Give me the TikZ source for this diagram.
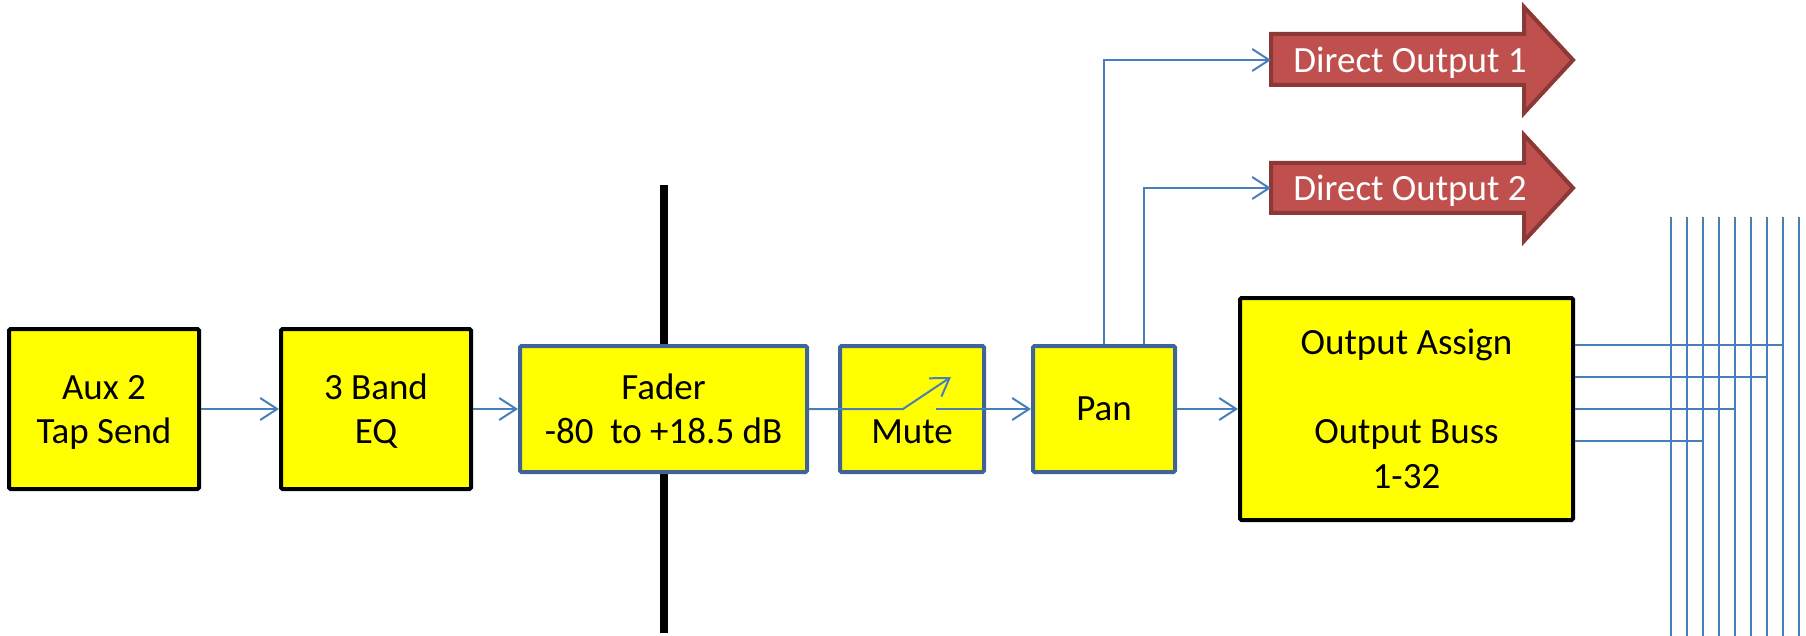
\documentclass[tikz,border=0pt]{standalone}
\usepackage{fontspec}
\setmainfont{Carlito}
\usetikzlibrary{arrows.meta}
\definecolor{yfill}{RGB}{255,255,0}
\definecolor{bbord}{RGB}{64,100,150}
\definecolor{wireblue}{RGB}{74,126,187}
\definecolor{redfill}{RGB}{192,80,77}
\definecolor{redbord}{RGB}{140,56,54}
\tikzset{
  box/.style={draw, fill=yfill, line width=4pt, rounded corners=1.5pt, align=center, inner sep=0pt, font=\fontsize{37}{44.5}\selectfont},
  blackbox/.style={box, draw=black},
  bluebox/.style={box, draw=bbord},
  wire/.style={draw=wireblue, line width=2pt},
  flow/.style={wire, -{Straight Barb[length=17pt,width=22pt]}},
  lbl/.style={font=\fontsize{37}{44.5}\selectfont, inner sep=0pt},
  redarrow/.style={fill=redfill, draw=redbord, line width=4pt, line join=miter},
  faderbar/.style={draw=black, line width=8pt}
}
\newcommand\firstln[1]{\rule{0pt}{24.5pt}\smash{#1}}
\newcommand\lastln[1]{\smash{#1}}
\begin{document}
\begin{tikzpicture}[x=1pt,y=-1pt]
\useasboundingbox (0,0) rectangle (1806,636);

% fader bar behind the fader box
\coordinate (bartop) at (663.5,185);
\coordinate (barbot) at (663.5,633);
\draw[faderbar] (bartop) -- (barbot);

% blocks
\node[blackbox, minimum width=190pt, minimum height=160pt] (aux) at (104,409) {\firstln{Aux 2}\\\lastln{Tap Send}};
\node[blackbox, minimum width=190pt, minimum height=160pt] (eq) at (376,409) {\firstln{3 Band}\\\lastln{EQ}};
\node[bluebox, minimum width=287pt, minimum height=126pt] (fader) at (663.5,409) {\firstln{Fader}\\\lastln{-80~ to +18.5 dB}};
\node[bluebox, minimum width=144pt, minimum height=126pt] (mute) at (912,409) {};
\node[lbl, anchor=base] (mutelbl) at (912,443) {Mute};
\node[bluebox, minimum width=142pt, minimum height=126pt] (pan) at (1104,409) {Pan};
\node[blackbox, minimum width=333pt, minimum height=222pt] (out) at (1406.5,409) {Output Assign\\[44.5pt]Output Buss\\1-32};

% direct output arrows
\draw[redarrow] (1271,34) -- (1524,34) -- (1524,7) -- (1573,60) -- (1524,113) -- (1524,85) -- (1271,85) -- cycle;
\node[lbl, text=white, anchor=base] (do1) at (1410,73) {Direct Output 1};
\coordinate (do1in) at (1271,60);
\draw[redarrow] (1271,163) -- (1524,163) -- (1524,135) -- (1573,188) -- (1524,241) -- (1524,213) -- (1271,213) -- cycle;
\node[lbl, text=white, anchor=base] (do2) at (1410,201) {Direct Output 2};
\coordinate (do2in) at (1271,188);

% signal flow
\coordinate (sw1) at (903,409);
\coordinate (sw2) at (951,377);
\coordinate (sw3) at (936,409);
\draw[flow] (aux) -- (eq);
\draw[flow] (eq) -- (fader);
\draw[flow] (fader.east) -- (sw1) -- (sw2);
\draw[flow] (sw3) -- (pan.west);
\draw[flow] (pan) -- (out);
\draw[flow] (pan.north) |- (do1in);
\coordinate (tap2) at ([xshift=40pt]pan.north);
\draw[flow] (tap2) |- (do2in);

% output busses
\foreach \i in {0,...,8} {
  \draw[wire] ({1671+16*\i},217) -- ({1671+16*\i},636);
}
\coordinate (b1) at (1783,345);
\coordinate (b2) at (1767,377);
\coordinate (b3) at (1735,409);
\coordinate (b4) at (1703,441);
\draw[wire] (out.east |- b1) -- (b1);
\draw[wire] (out.east |- b2) -- (b2);
\draw[wire] (out.east |- b3) -- (b3);
\draw[wire] (out.east |- b4) -- (b4);
\end{tikzpicture}
\end{document}
